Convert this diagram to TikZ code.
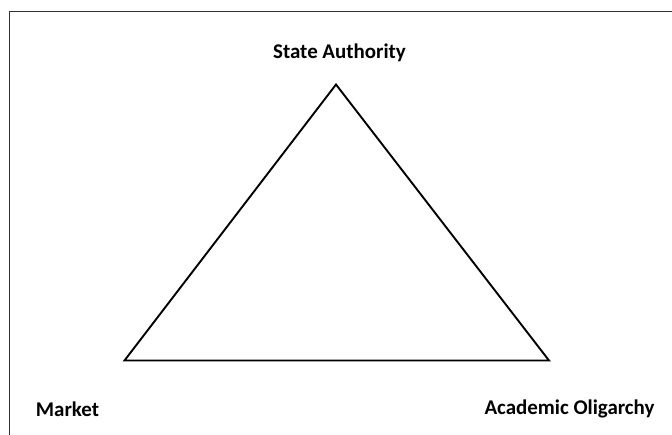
\documentclass[tikz,border=0pt]{standalone}
\usepackage{fontspec}
\setmainfont{Carlito}
\begin{document}
\begin{tikzpicture}[>=latex,line join=miter,x=1bp,y=-1bp]
%%
\useasboundingbox (0,0) rectangle (672,435);
\clip (0,0) rectangle (672,435);
\draw [black!80,line width=1.3bp] (700,11.5) -- (9.5,11.5) -- (9.5,470);
%
\node (node_0) at (339.5,53) [draw=none,font=\bfseries\fontsize{21}{24}\selectfont] {State Authority};
  \node (node_1) at (67.5,409) [draw=none,font=\bfseries\fontsize{21}{24}\selectfont] {Market};
  \node (node_2) at (569.5,409) [draw=none,font=\bfseries\fontsize{21}{24}\selectfont] {Academic Oligarchy};
  \coordinate (apex) at (336,84.5);
  \coordinate (left) at (124.5,360.5);
  \coordinate (right) at (549,360.5);
  \draw [black,line width=1.9bp] (apex) -- (right) -- (left) -- cycle;
%
\end{tikzpicture}
\end{document}
